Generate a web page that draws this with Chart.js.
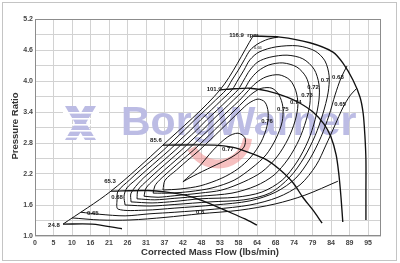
<!DOCTYPE html>
<html>
<head>
<meta charset="utf-8">
<script src="https://cdn.jsdelivr.net/npm/chart.js@4.4.0/dist/chart.umd.min.js"></script>
<style>
  html, body { margin: 0; padding: 0; background: #fff; }
</style>
</head>
<body>
<canvas id="map" width="400" height="263"></canvas>
<script>
// axis tick labels
const xTickLabels = ['0','5','10','16','21','26','31','37','42','48','53','58','64','68','74','79','84','89','95'];
const yTickLabels = ['1.0','1.6','2.2','2.8','3.4','4.0','4.6','5.2'];

// surge line and speed lines (x = lbs/min, y = pressure ratio)
const surgeLine = [[8.0,1.23],[21.7,1.87],[36.5,2.76],[52.8,3.83],[62.2,4.87]];
const speed24_8 = [[8.0,1.23],[16.3,1.23],[24.8,1.14]];
const speed65_3 = [[21.7,1.87],[32.2,1.88],[37.6,1.85],[42.8,1.79],[47.9,1.68],[54.8,1.48],[59.9,1.33],[63.3,1.21]];
const speed85_6 = [[36.5,2.76],[51.3,2.76],[56.2,2.72],[61.3,2.61],[66.2,2.47],[69.9,2.28],[73.6,2.03],[76.4,1.75],[79.3,1.50],[81.9,1.25]];
const speed101_9 = [[53.1,3.83],[57.0,3.85],[61.3,3.86],[66.2,3.81],[71.9,3.69],[75.6,3.57],[79.3,3.40],[82.4,3.17],[84.4,2.92],[85.9,2.57],[86.7,2.18],[87.3,1.74],[87.8,1.27]];
const speed116_9 = [[62.2,4.87],[69.9,4.85],[78.4,4.74],[85.0,4.56],[87.8,4.35],[90.7,4.02],[92.7,3.69],[93.6,3.38],[94.1,2.95],[94.4,2.47],[94.4,1.89],[94.4,1.31]];

// efficiency contours
const eff77 = [[42.2,2.05],[46.5,2.32],[50.8,2.66],[55.0,2.92],[57.9,2.99],[59.9,2.90],[59.6,2.72],[56.2,2.53],[50.5,2.34],[45.1,2.16],[42.2,2.05]];
const eff76 = [[36.5,1.89],[37.1,2.08],[40.4,2.28],[43.6,2.47],[46.9,2.66],[50.0,2.86],[52.9,3.05],[55.9,3.25],[58.5,3.42],[61.0,3.57],[63.6,3.65],[65.6,3.59],[66.5,3.40],[66.2,3.13],[64.5,2.82],[61.6,2.53],[57.9,2.30],[53.3,2.12],[47.1,1.97],[41.4,1.91],[36.5,1.89]];
const eff75 = [[33.7,1.83],[34.2,1.97],[35.5,2.08],[38.7,2.28],[41.9,2.47],[45.2,2.66],[48.3,2.86],[51.2,3.05],[54.2,3.25],[57.1,3.44],[59.6,3.61],[62.2,3.77],[64.7,3.86],[67.6,3.86],[69.6,3.73],[70.7,3.50],[70.5,3.21],[68.7,2.88],[65.9,2.57],[61.9,2.32],[56.8,2.08],[50.5,1.93],[44.2,1.86],[38.5,1.83],[33.7,1.83]];
const eff74 = [[31.1,1.77],[31.7,1.93],[33.8,2.08],[37.0,2.28],[40.2,2.47],[43.4,2.66],[46.5,2.86],[49.5,3.05],[52.5,3.25],[55.4,3.44],[58.4,3.63],[60.8,3.81],[63.0,3.96],[65.9,4.08],[69.6,4.12],[72.7,4.02],[74.4,3.81],[75.0,3.54],[74.2,3.23],[72.2,2.88],[69.0,2.53],[64.7,2.24],[59.6,2.05],[53.3,1.89],[47.1,1.83],[39.9,1.78],[35.1,1.75],[31.1,1.77]];
const eff73 = [[29.1,1.72],[29.4,1.89],[32.1,2.08],[35.3,2.28],[38.5,2.47],[41.7,2.66],[44.8,2.86],[47.8,3.05],[50.7,3.25],[53.7,3.44],[56.6,3.63],[59.6,3.83],[61.3,4.02],[63.6,4.19],[66.7,4.31],[70.7,4.35],[74.7,4.27],[77.3,4.08],[78.4,3.83],[78.4,3.55],[77.3,3.23],[75.3,2.86],[72.2,2.49],[68.2,2.18],[63.0,1.97],[56.2,1.83],[47.1,1.77],[39.9,1.73],[34.2,1.70],[29.1,1.72]];
const eff72 = [[27.4,1.66],[27.4,1.83],[30.3,2.08],[33.6,2.28],[36.8,2.47],[40.0,2.66],[43.1,2.86],[46.1,3.05],[49.0,3.25],[52.0,3.44],[54.9,3.63],[57.9,3.83],[59.6,4.02],[61.3,4.21],[63.6,4.37],[67.0,4.46],[71.9,4.50],[76.4,4.43],[79.6,4.23],[81.0,3.94],[81.0,3.63],[79.9,3.25],[77.9,2.84],[74.7,2.43],[70.5,2.08],[64.7,1.85],[57.3,1.75],[47.1,1.72],[39.9,1.67],[33.4,1.64],[27.4,1.66]];
const eff70 = [[25.7,1.60],[25.4,1.77],[26.2,1.93],[28.6,2.08],[31.9,2.28],[35.1,2.47],[38.3,2.66],[41.4,2.86],[44.4,3.05],[47.3,3.25],[50.3,3.44],[53.2,3.63],[56.2,3.83],[57.9,4.02],[59.6,4.21],[61.3,4.41],[63.9,4.56],[68.7,4.66],[75.0,4.68],[79.9,4.58],[82.7,4.39],[83.9,4.10],[83.6,3.77],[82.1,3.36],[79.9,2.94],[76.7,2.51],[72.7,2.14],[67.0,1.83],[59.6,1.70],[49.9,1.66],[39.9,1.61],[32.8,1.58],[25.7,1.60]];
const eff68 = [[89.0,4.29],[87.3,4.06],[85.6,3.73],[83.9,3.34],[81.6,2.92],[78.4,2.49],[74.4,2.12],[68.7,1.85],[61.3,1.68],[51.3,1.60],[39.9,1.54],[31.4,1.50],[23.7,1.52],[23.4,1.70],[23.7,1.87],[26.9,2.08],[30.1,2.28],[33.4,2.47],[36.6,2.66],[39.7,2.86],[42.6,3.05],[45.6,3.25],[48.6,3.44],[51.5,3.63],[54.5,3.83],[56.2,4.02],[58.0,4.21],[59.7,4.41],[61.4,4.60],[63.6,4.72],[66.5,4.81],[69.3,4.85]];
const eff65 = [[13.1,1.46],[18.5,1.42],[25.7,1.39],[32.8,1.43],[39.9,1.46],[51.3,1.52],[61.3,1.60],[69.3,1.75],[75.6,1.99],[80.2,2.37],[83.0,2.76],[85.6,3.15],[87.8,3.48],[89.8,3.71],[91.8,3.86]];
const eff60 = [[10.6,1.35],[18.5,1.31],[27.1,1.31],[37.1,1.36],[47.1,1.43],[58.5,1.50],[68.5,1.62],[77.0,1.79],[86.4,2.06]];

// labels on the map
const speedLabelText = ['24.8','65.3','85.6','101.9','116.9  rpm'];
const speedLabelPos = [[5.4,1.21],[21.4,2.05],[34.5,2.86],[51.1,3.83],[59.6,4.89]];
const effLabelText = ['0.77','0.76','0.75','0.74','0.73','0.72','0.7','0.68','0.65','0.68','0.65','0.6'];
const effLabelPos = [[55.0,2.68],[66.2,3.21],[70.7,3.46],[74.4,3.59],[77.6,3.73],[79.3,3.88],[82.7,4.02],[86.4,4.08],[87.0,3.54],[23.4,1.74],[16.5,1.43],[47.1,1.45]];
const smallLabelText = ['0.66'];
const smallLabelPos = [[63.6,4.64]];

const contours = [eff60, eff65, eff68, eff70, eff72, eff73, eff74, eff75, eff76, eff77];
const speeds = [speed24_8, speed65_3, speed85_6, speed101_9, speed116_9];

const datasets = [];
contours.forEach(c => datasets.push({ data: c.map(p => ({x: p[0], y: p[1]})), borderColor: '#111', borderWidth: 1 }));
speeds.forEach(s => datasets.push({ data: s.map(p => ({x: p[0], y: p[1]})), borderColor: '#111', borderWidth: 1.35 }));
datasets.push({ data: surgeLine.map(p => ({x: p[0], y: p[1]})), borderColor: '#111', borderWidth: 1 });

Chart.defaults.font.family = '"Liberation Sans", Arial, sans-serif';

// BorgWarner watermark, drawn over the grid and under the lines
const watermark = {
  id: 'watermark',
  beforeDatasetsDraw(chart) {
    const {ctx, chartArea} = chart;
    ctx.save();
    ctx.beginPath();
    ctx.rect(chartArea.left, chartArea.top, chartArea.width, chartArea.height);
    ctx.clip();
    ctx.fillStyle = '#bcbce4';
    // logo mark
    ctx.beginPath();
    ctx.moveTo(65, 106); ctx.lineTo(76, 106); ctx.lineTo(96, 140); ctx.lineTo(85, 140); ctx.closePath();
    ctx.moveTo(85, 106); ctx.lineTo(96, 106); ctx.lineTo(76, 140); ctx.lineTo(65, 140); ctx.closePath();
    ctx.fill();
    ctx.fillStyle = '#fff';
    [112, 118, 124, 130, 136].forEach(yy => ctx.fillRect(63, yy, 36, 1.6));
    // word mark
    ctx.fillStyle = '#bcbce4';
    ctx.font = 'bold 41px "Liberation Sans"';
    ctx.textBaseline = 'alphabetic';
    ctx.fillText('BorgWarner', 121, 135);
    // red swoosh
    ctx.strokeStyle = 'rgba(238,130,130,0.5)';
    ctx.lineWidth = 9;
    ctx.beginPath();
    ctx.arc(218, 134, 30, 0.15, 2.65);
    ctx.stroke();
    ctx.restore();
  }
};

const mapLabels = {
  id: 'mapLabels',
  afterDatasetsDraw(chart) {
    const {ctx} = chart;
    const x = chart.scales.x, y = chart.scales.y;
    ctx.save();
    ctx.fillStyle = '#1a1a1a';
    ctx.textAlign = 'center';
    ctx.textBaseline = 'middle';
    ctx.font = 'bold 6px "Liberation Sans"';
    speedLabelText.forEach((t, i) => ctx.fillText(t, x.getPixelForValue(speedLabelPos[i][0]), y.getPixelForValue(speedLabelPos[i][1])));
    effLabelText.forEach((t, i) => ctx.fillText(t, x.getPixelForValue(effLabelPos[i][0]), y.getPixelForValue(effLabelPos[i][1])));
    ctx.font = '4px "Liberation Sans"';
    smallLabelText.forEach((t, i) => ctx.fillText(t, x.getPixelForValue(smallLabelPos[i][0]), y.getPixelForValue(smallLabelPos[i][1])));
    ctx.restore();
  }
};

const frames = {
  id: 'frames',
  beforeDraw(chart) {
    const {ctx} = chart;
    ctx.save();
    ctx.fillStyle = '#fff';
    ctx.fillRect(0, 0, chart.width, chart.height);
    ctx.restore();
  },
  afterDraw(chart) {
    const {ctx, chartArea} = chart;
    ctx.save();
    ctx.strokeStyle = '#8c8c8c';
    ctx.lineWidth = 1;
    ctx.strokeRect(chartArea.left + 0.5, chartArea.top + 0.5, chartArea.width - 1, chartArea.height - 1);
    ctx.strokeStyle = '#c4c4c4';
    ctx.strokeRect(2.5, 2.5, chart.width - 6, chart.height - 5);
    // axis titles
    ctx.fillStyle = '#333';
    ctx.font = 'bold 9.5px "Liberation Sans"';
    ctx.textAlign = 'center';
    ctx.textBaseline = 'middle';
    ctx.fillText('Corrected Mass Flow (lbs/min)', 210, 252);
    ctx.translate(15, 126);
    ctx.rotate(-Math.PI / 2);
    ctx.fillText('Pressure Ratio', 0, 0);
    ctx.restore();
  }
};

new Chart(document.getElementById('map'), {
  type: 'scatter',
  data: { datasets: datasets },
  options: {
    responsive: false,
    animation: false,
    showLine: true,
    elements: {
      point: { radius: 0, hoverRadius: 0 },
      line: { tension: 0.3, fill: false }
    },
    layout: { padding: { top: 19, right: 19, left: 0, bottom: 0 } },
    plugins: { legend: { display: false }, tooltip: { enabled: false } },
    scales: {
      x: {
        type: 'linear',
        min: 0,
        max: 98.7,
        afterBuildTicks: scale => {
          scale.ticks = xTickLabels.map((t, i) => ({ value: i * Number(xTickLabels[xTickLabels.length - 1]) / (xTickLabels.length - 1) }));
        },
        afterFit: scale => { scale.height = 27; },
        grid: { color: '#d2d2d2', drawTicks: false },
        border: { display: false },
        ticks: {
          autoSkip: false, maxRotation: 0, padding: 3,
          color: '#444', font: { size: 7, weight: 'bold' },
          callback: (v, i) => xTickLabels[i]
        }
      },
      y: {
        type: 'linear',
        min: 1.0,
        max: 5.2,
        afterBuildTicks: scale => {
          const t = [];
          for (let i = 0; i <= 14; i++) t.push({ value: Math.round((1.0 + 0.3 * i) * 10) / 10 });
          scale.ticks = t;
        },
        afterFit: scale => { scale.width = 35; },
        grid: { color: '#d2d2d2', drawTicks: false },
        border: { display: false },
        ticks: {
          autoSkip: false, padding: 2,
          color: '#444', font: { size: 7, weight: 'bold' },
          callback: (v, i) => (i % 2 === 0 ? yTickLabels[i / 2] : '')
        }
      }
    }
  },
  plugins: [frames, watermark, mapLabels]
});
</script>
</body>
</html>
